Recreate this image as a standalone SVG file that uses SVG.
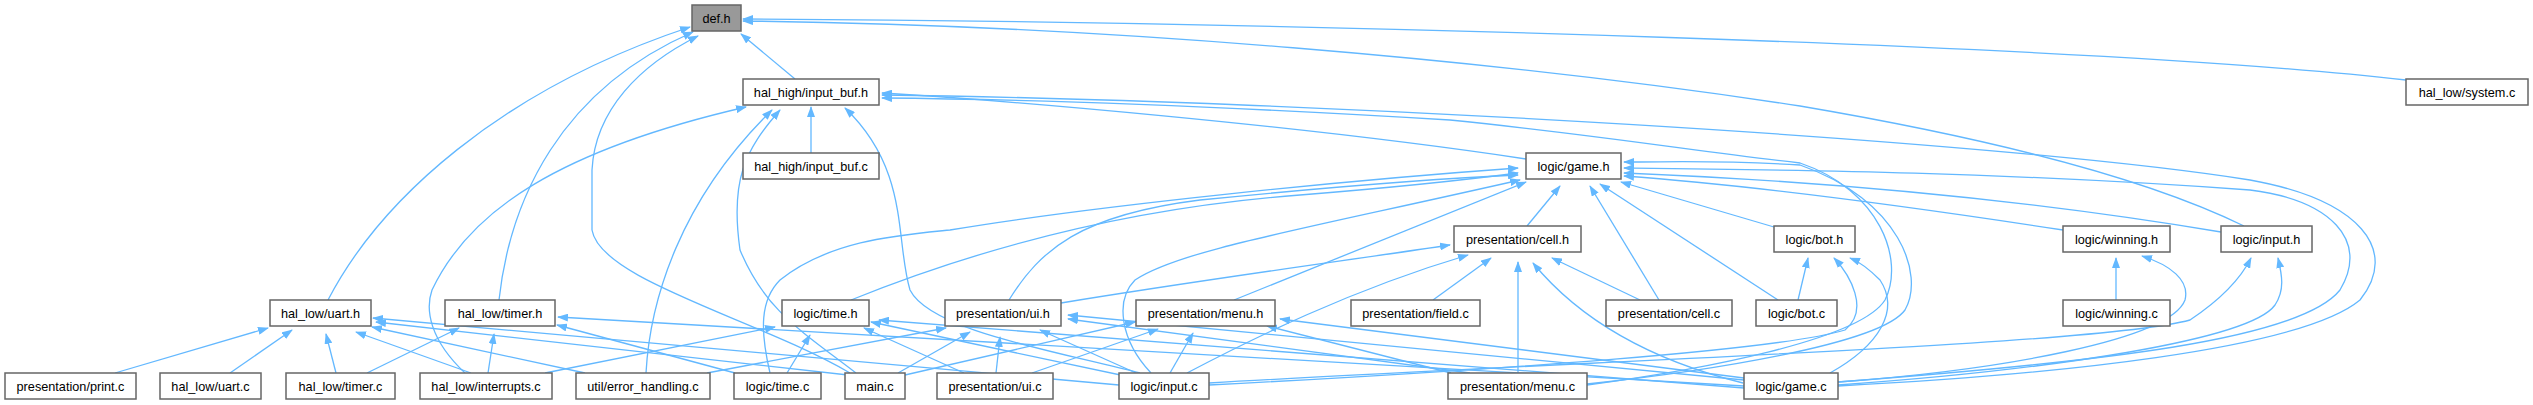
<svg xmlns="http://www.w3.org/2000/svg" width="2533" height="405" viewBox="0 0 2533 405">
<style>
.e{fill:none;stroke:#63b8ff;stroke-width:1.3;marker-end:url(#ah)}
.n rect{fill:#fff;stroke:#666;stroke-width:1.5}
.n text{font-family:"Liberation Sans",Arial,sans-serif;font-size:12.7px;fill:#000;text-anchor:middle}
#n_def rect{fill:#999}
</style>
<defs>
<marker id="ah" markerUnits="userSpaceOnUse" markerWidth="11" markerHeight="8" refX="10" refY="4" orient="auto">
<path d="M0,0 L11,4 L0,8 z" fill="#63b8ff"/>
</marker>
</defs>
<rect width="2533" height="405" fill="#fff"/>
<g id="edges">
<path class="e" d="M795,79 L741,34"/>
<path class="e" d="M328,300 C380,200 500,90 690,27"/>
<path class="e" d="M499,300 C510,200 560,90 693,32"/>
<path class="e" d="M850,373 C760,320 600,280 592,230 L592,170 C595,110 640,65 698,36"/>
<path class="e" d="M2406,80 C2100,45 1300,22 743,19"/>
<path class="e" d="M2244,226 C2150,180 2000,140 1800,106 C1500,60 1100,25 743,21"/>
<path class="e" d="M811,153 L811,107"/>
<path class="e" d="M465,373 C430,340 425,310 432,290 C470,210 560,150 746,107"/>
<path class="e" d="M646,373 C650,300 680,200 772,110"/>
<path class="e" d="M856,373 C800,330 765,310 740,250 C730,180 745,150 780,110"/>
<path class="e" d="M1140,373 C1050,350 930,330 910,290 C895,240 910,170 845,108"/>
<path class="e" d="M1526,159 C1300,125 1000,100 882,93"/>
<path class="e" d="M1838,386 C2050,375 2300,350 2360,300 C2400,250 2360,200 2250,180 C2000,140 1300,100 882,95"/>
<path class="e" d="M1587,385 C1700,370 1860,340 1885,300 C1905,260 1880,190 1800,163 C1700,152 1600,135 1450,120 C1200,105 1000,99 882,98"/>
<path class="e" d="M115,373 L268,328"/>
<path class="e" d="M230,373 L292,330"/>
<path class="e" d="M336,373 L326,334"/>
<path class="e" d="M471,373 L356,332"/>
<path class="e" d="M585,373 L372,327"/>
<path class="e" d="M848,375 L376,322"/>
<path class="e" d="M1119,385 L373,318"/>
<path class="e" d="M367,373 L459,328"/>
<path class="e" d="M488,373 L494,334"/>
<path class="e" d="M735,373 L557,325"/>
<path class="e" d="M1744,386 L558,317"/>
<path class="e" d="M545,373 L775,327"/>
<path class="e" d="M787,373 L810,335"/>
<path class="e" d="M964,373 L864,328"/>
<path class="e" d="M1130,377 L871,322"/>
<path class="e" d="M1744,388 L879,320"/>
<path class="e" d="M707,373 L946,328"/>
<path class="e" d="M898,373 L970,332"/>
<path class="e" d="M996,373 L1000,337"/>
<path class="e" d="M1136,373 L1040,330"/>
<path class="e" d="M1470,373 L1068,319"/>
<path class="e" d="M1744,380 L1068,315"/>
<path class="e" d="M1061,303 C1200,280 1350,260 1450,245"/>
<path class="e" d="M905,375 L1135,322"/>
<path class="e" d="M1032,373 L1158,329"/>
<path class="e" d="M1170,373 L1193,333"/>
<path class="e" d="M1451,373 L1267,326"/>
<path class="e" d="M1744,378 L1280,319"/>
<path class="e" d="M1187,373 C1250,340 1350,290 1468,255"/>
<path class="e" d="M1433,300 L1491,258"/>
<path class="e" d="M1518,373 L1518,262"/>
<path class="e" d="M1743,383 C1650,360 1580,320 1533,263"/>
<path class="e" d="M1640,300 L1552,258"/>
<path class="e" d="M1798,300 L1808,258"/>
<path class="e" d="M1830,373 C1880,345 1900,310 1880,280 C1870,270 1860,262 1850,258"/>
<path class="e" d="M1209,385 C1500,370 1780,350 1845,330 C1870,310 1850,275 1834,258"/>
<path class="e" d="M2116,300 L2116,258"/>
<path class="e" d="M1838,382 C2000,370 2170,340 2185,300 C2190,280 2170,265 2142,256"/>
<path class="e" d="M1209,383 C1600,360 2100,345 2190,320 C2220,300 2240,280 2251,258"/>
<path class="e" d="M1838,385 C2050,370 2250,340 2275,305 C2285,290 2282,275 2278,258"/>
<path class="e" d="M770,373 C760,330 760,300 780,280 C830,240 900,235 950,230 C1100,205 1350,180 1518,168"/>
<path class="e" d="M851,300 C950,260 1100,210 1300,195 C1400,187 1480,178 1518,173"/>
<path class="e" d="M1009,300 C1040,250 1080,215 1200,200 C1350,185 1450,178 1518,175"/>
<path class="e" d="M1151,373 C1120,340 1115,300 1135,280 C1180,250 1300,230 1520,180"/>
<path class="e" d="M1234,300 L1526,182"/>
<path class="e" d="M1527,226 L1560,186"/>
<path class="e" d="M1659,300 L1590,186"/>
<path class="e" d="M1778,300 L1600,184"/>
<path class="e" d="M1774,227 L1621,182"/>
<path class="e" d="M2063,230 C1900,205 1750,185 1624,176"/>
<path class="e" d="M2221,232 C2000,195 1800,180 1624,173"/>
<path class="e" d="M1838,382 C2100,362 2300,340 2340,290 C2370,240 2330,200 2250,190 C2000,172 1800,170 1624,168"/>
<path class="e" d="M1587,384 C1700,372 1880,345 1905,310 C1925,275 1900,200 1800,165 C1720,160 1680,162 1624,162"/>
</g>
<g id="n_def" class="n"><rect x="692" y="5" width="49" height="26"/><text x="716.5" y="22.5">def.h</text></g>
<g id="n_inbuf_h" class="n"><rect x="743" y="79" width="136" height="26"/><text x="811" y="96.5">hal_high/input_buf.h</text></g>
<g id="n_system_c" class="n"><rect x="2406" y="79" width="122" height="26"/><text x="2467" y="96.5">hal_low/system.c</text></g>
<g id="n_inbuf_c" class="n"><rect x="743" y="153" width="136" height="26"/><text x="811" y="170.5">hal_high/input_buf.c</text></g>
<g id="n_game_h" class="n"><rect x="1526" y="153" width="95" height="26"/><text x="1573.5" y="170.5">logic/game.h</text></g>
<g id="n_cell_h" class="n"><rect x="1454" y="226" width="127" height="26"/><text x="1517.5" y="243.5">presentation/cell.h</text></g>
<g id="n_bot_h" class="n"><rect x="1774" y="226" width="81" height="26"/><text x="1814.5" y="243.5">logic/bot.h</text></g>
<g id="n_winning_h" class="n"><rect x="2063" y="226" width="107" height="26"/><text x="2116.5" y="243.5">logic/winning.h</text></g>
<g id="n_input_h" class="n"><rect x="2221" y="226" width="91" height="26"/><text x="2266.5" y="243.5">logic/input.h</text></g>
<g id="n_uart_h" class="n"><rect x="270" y="300" width="101" height="26"/><text x="320.5" y="317.5">hal_low/uart.h</text></g>
<g id="n_timer_h" class="n"><rect x="445" y="300" width="110" height="26"/><text x="500" y="317.5">hal_low/timer.h</text></g>
<g id="n_time_h" class="n"><rect x="782" y="300" width="87" height="26"/><text x="825.5" y="317.5">logic/time.h</text></g>
<g id="n_ui_h" class="n"><rect x="945" y="300" width="116" height="26"/><text x="1003" y="317.5">presentation/ui.h</text></g>
<g id="n_menu_h" class="n"><rect x="1136" y="300" width="139" height="26"/><text x="1205.5" y="317.5">presentation/menu.h</text></g>
<g id="n_field_c" class="n"><rect x="1351" y="300" width="129" height="26"/><text x="1415.5" y="317.5">presentation/field.c</text></g>
<g id="n_cell_c" class="n"><rect x="1606" y="300" width="126" height="26"/><text x="1669" y="317.5">presentation/cell.c</text></g>
<g id="n_bot_c" class="n"><rect x="1756" y="300" width="81" height="26"/><text x="1796.5" y="317.5">logic/bot.c</text></g>
<g id="n_winning_c" class="n"><rect x="2063" y="300" width="107" height="26"/><text x="2116.5" y="317.5">logic/winning.c</text></g>
<g id="n_print_c" class="n"><rect x="5" y="373" width="131" height="26"/><text x="70.5" y="390.5">presentation/print.c</text></g>
<g id="n_uart_c" class="n"><rect x="160" y="373" width="101" height="26"/><text x="210.5" y="390.5">hal_low/uart.c</text></g>
<g id="n_timer_c" class="n"><rect x="286" y="373" width="109" height="26"/><text x="340.5" y="390.5">hal_low/timer.c</text></g>
<g id="n_interrupts_c" class="n"><rect x="420" y="373" width="132" height="26"/><text x="486" y="390.5">hal_low/interrupts.c</text></g>
<g id="n_error_c" class="n"><rect x="576" y="373" width="134" height="26"/><text x="643" y="390.5">util/error_handling.c</text></g>
<g id="n_time_c" class="n"><rect x="734" y="373" width="87" height="26"/><text x="777.5" y="390.5">logic/time.c</text></g>
<g id="n_main_c" class="n"><rect x="845" y="373" width="60" height="26"/><text x="875" y="390.5">main.c</text></g>
<g id="n_ui_c" class="n"><rect x="937" y="373" width="116" height="26"/><text x="995" y="390.5">presentation/ui.c</text></g>
<g id="n_input_c" class="n"><rect x="1119" y="373" width="90" height="26"/><text x="1164" y="390.5">logic/input.c</text></g>
<g id="n_menu_c" class="n"><rect x="1448" y="373" width="139" height="26"/><text x="1517.5" y="390.5">presentation/menu.c</text></g>
<g id="n_game_c" class="n"><rect x="1744" y="373" width="94" height="26"/><text x="1791" y="390.5">logic/game.c</text></g>
</svg>
